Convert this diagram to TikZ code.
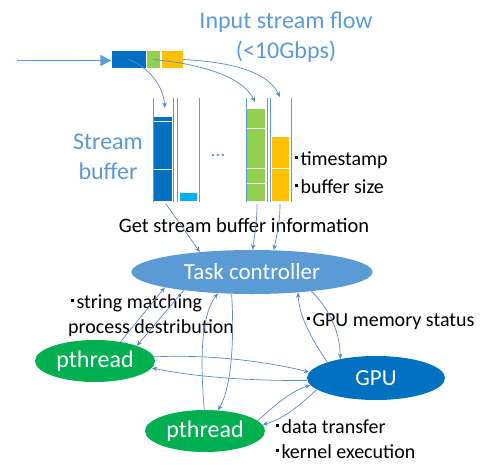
\documentclass[tikz,border=0pt]{standalone}
\usepackage{fontspec}
\setmainfont{Carlito}
\usetikzlibrary{shapes.geometric,arrows.meta}
\definecolor{lblue}{HTML}{5B9BD5}
\definecolor{dblue}{HTML}{0070C0}
\definecolor{pgreen}{HTML}{00B050}
\definecolor{lgreen}{HTML}{92D050}
\definecolor{pyellow}{HTML}{FFC000}
\definecolor{pcyan}{HTML}{00B0F0}
\definecolor{connc}{HTML}{5A8AC6}
\newcommand{\sqbul}{\rule[0.33em]{2.8pt}{2.8pt}\hspace{2.5pt}}
\begin{document}
\begin{tikzpicture}[x=1pt,y=-1pt,
  conn/.style={draw=connc, line width=0.7pt, -{Stealth[length=5.5pt,width=4.5pt]}},
  wall/.style={draw=lblue, line width=0.7pt},
  sep/.style={draw=white, line width=1pt},
  oval/.style={ellipse, inner sep=0pt, text=white},
  pkt/.style={inner sep=0pt, minimum height=17pt},
  lbl/.style={anchor=west, inner sep=0pt, font=\fontsize{20}{24}\selectfont},
  blbl/.style={inner sep=0pt, text=lblue, font=\fontsize{24}{28}\selectfont}]
\useasboundingbox (0,0) rectangle (488,464);

% titles
\node[blbl] (t1) at (286,22) {Input stream flow};
\node[blbl] (t2) at (286,52) {(<10Gbps)};
\node[blbl] (s1) at (108,142) {Stream};
\node[blbl] (s2) at (108,171) {buffer};

% packet
\node[pkt, fill=dblue, minimum width=34pt] (pk1) at (128.5,59.5) {};
\node[pkt, fill=lgreen, minimum width=13pt] (pk2) at (153.5,59.5) {};
\node[pkt, fill=pyellow, minimum width=21pt] (pk3) at (172.5,59.5) {};
\coordinate (in) at (17,60.5);
\draw[draw=lblue, line width=1.3pt, -{Triangle[length=11pt,width=11pt]}] (in) -- (pk1.west|-in);

% buffers
\fill[dblue] (154,117) rectangle (172,201);
\draw[sep] (154,121.5) -- (172,121.5);
\draw[sep] (154,169) -- (172,169);
\fill[pcyan] (180,193) rectangle (197,201);
\fill[lgreen] (247,109) rectangle (265,201);
\draw[sep] (247,128) -- (265,128);
\draw[sep] (247,168) -- (265,168);
\draw[sep] (247,183) -- (265,183);
\fill[pyellow] (272,137) rectangle (289,201);
\draw[sep] (272,168) -- (289,168);
\foreach \x in {153,173,177,199,246,267,270,291}
  \draw[wall] (\x,98) -- (\x,202);
\node[inner sep=0pt, text=lblue, font=\fontsize{20}{24}\selectfont] (dots) at (218,155) {\dots};

\coordinate (b1in) at (165,108);
\coordinate (b3in) at (255,102);
\coordinate (b4in) at (280,97);
\draw[conn] (pk1.center) .. controls (150,68) and (163,86) .. (b1in);
\draw[conn] (pk2.center) .. controls (200,64) and (242,76) .. (b3in);
\draw[conn] (pk3.east) .. controls (232,62) and (268,72) .. (b4in);

% labels
\node[lbl] (ts) at (295,160) {\sqbul timestamp};
\node[lbl] (bs) at (295,187) {\sqbul buffer size};
\node[inner sep=0pt, font=\fontsize{20.5}{24}\selectfont] (gs) at (244,225) {Get stream buffer information};
\node[lbl] (sm) at (71,303) {\sqbul string matching};
\node[lbl] (pd) at (68,328) {process destribution};
\node[lbl] (gm) at (307,322) {\sqbul GPU memory status};
\node[lbl] (dt) at (276,427) {\sqbul data transfer};
\node[lbl] (ke) at (276,452) {\sqbul kernel execution};

% ellipses
\node[oval, fill=lblue, minimum width=241pt, minimum height=44pt, font=\fontsize{23}{26}\selectfont] (tc) at (252,272) {Task controller};
\node[oval, fill=pgreen, minimum width=120pt, minimum height=42pt, font=\fontsize{24}{28}\selectfont] (p1) at (95,361) {pthread};
\node[oval, fill=pgreen, minimum width=120pt, minimum height=42pt, font=\fontsize{24}{28}\selectfont] (p2) at (205,431) {pthread};
\node[oval, fill=dblue, minimum width=138pt, minimum height=44pt, font=\fontsize{23}{26}\selectfont] (gpu) at (376,378) {GPU};

% buffers -> controller
\coordinate (b1out) at (166,204);
\coordinate (b3out) at (257,204);
\coordinate (b4out) at (280,204);
\draw[conn] (b1out) -- (tc.159);
\draw[conn] (b3out) .. controls (257,225) and (254,238) .. (tc.88);
\draw[conn] (b4out) .. controls (280,225) and (276,238) .. (tc.45);

% controller <-> pthreads / GPU
\draw[conn] (p1.37) -- (tc.190);
\draw[conn] (tc.195) -- (p1.20);
\draw[conn] (p2.92) .. controls (201,370) and (199,318) .. (tc.212);
\draw[conn] (tc.227) .. controls (234,330) and (233,385) .. (p2.58);
\draw[conn] (gpu.162) .. controls (312,340) and (299,316) .. (tc.336);
\draw[conn] (tc.342) .. controls (327,306) and (340,330) .. (gpu.152);

% pthreads <-> GPU
\draw[conn] (p1.4) .. controls (210,354) and (270,362) .. (gpu.175);
\draw[conn] (gpu.182) .. controls (260,381) and (200,378) .. (p1.353);
\draw[conn] (p2.11) .. controls (275,405) and (290,392) .. (gpu.186);
\draw[conn] (gpu.191) .. controls (300,405) and (285,418) .. (p2.6);
\end{tikzpicture}
\end{document}
